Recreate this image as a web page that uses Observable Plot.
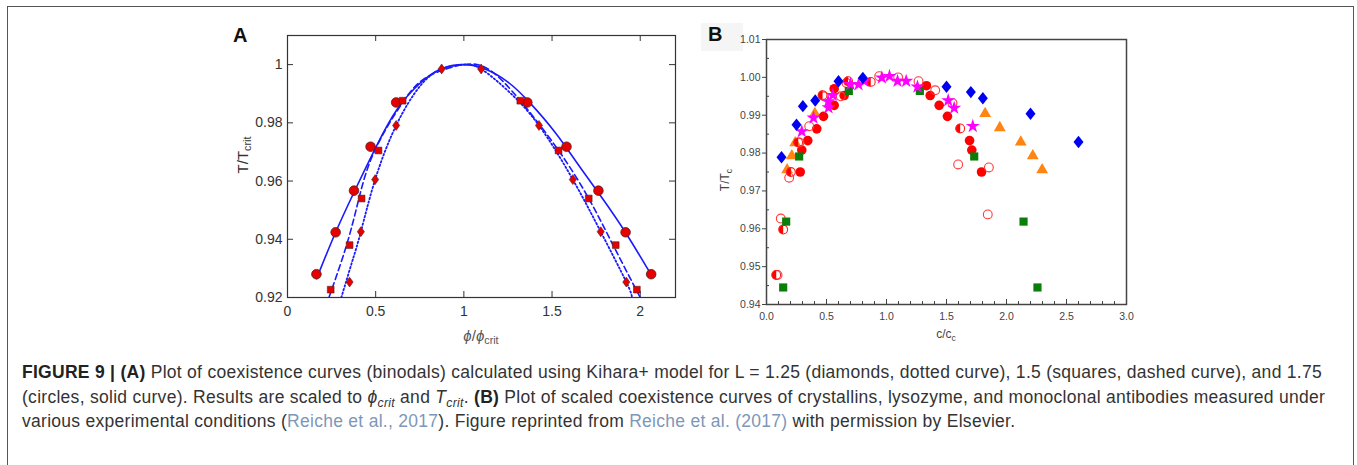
<!DOCTYPE html>
<html><head><meta charset="utf-8">
<script src="https://cdn.jsdelivr.net/npm/d3@7"></script>
<script src="https://cdn.jsdelivr.net/npm/@observablehq/plot@0.6"></script>
<style>
body{margin:0;background:#fff;font-family:"Liberation Sans",Arial,sans-serif;}
#page{position:relative;width:1357px;height:465px;overflow:hidden;background:#fff;}
.abs{position:absolute;white-space:nowrap;}
#border{position:absolute;left:7px;top:6px;width:1347px;height:470px;border:1px solid #555;box-sizing:border-box;}
.cap{position:absolute;left:22px;top:360px;font-size:17.5px;letter-spacing:0.28px;line-height:24.5px;color:#333;white-space:nowrap;}
.cap b{color:#222;}
.cap .lnk{color:#7d97b8;}
.cap sub{font-size:70%;vertical-align:-0.35em;line-height:0;}
.ttl sub{font-size:72%;vertical-align:-0.35em;line-height:0;}
</style></head><body><div id="page">
<div id="border"></div>
<div class="abs" style="left:233px;top:24px;font-size:20px;font-weight:bold;color:#111;">A</div>
<div class="abs" style="left:701px;top:23px;width:42px;height:28px;background:#f5f5f5;"></div>
<div class="abs" style="left:708px;top:23px;font-size:20px;font-weight:bold;color:#111;">B</div>
<div id="plotA" class="abs" style="left:200px;top:20px;"></div>
<div id="plotB" class="abs" style="left:700px;top:20px;"></div>
<div class="abs ttl" style="left:242px;top:155px;transform:translate(-50%,-50%) rotate(-90deg);font-size:15px;color:#333;">T/T<sub>crit</sub></div>
<div class="abs ttl" style="left:481px;top:335px;transform:translate(-50%,-50%);font-size:15px;color:#555;"><i>ϕ</i>/<i>ϕ</i><sub>crit</sub></div>
<div class="abs ttl" style="left:725px;top:180px;transform:translate(-50%,-50%) rotate(-90deg);font-size:12px;color:#444;">T/T<sub>c</sub></div>
<div class="abs ttl" style="left:946px;top:334px;transform:translate(-50%,-50%);font-size:12px;color:#444;">c/c<sub>c</sub></div>
<div class="cap"><b>FIGURE 9 | (A)</b> Plot of coexistence curves (binodals) calculated using Kihara+ model for L = 1.25 (diamonds, dotted curve), 1.5 (squares, dashed curve), and 1.75<br>(circles, solid curve). Results are scaled to <i>ϕ<sub>crit</sub></i> and <i>T<sub>crit</sub></i>. <b>(B)</b> Plot of scaled coexistence curves of crystallins, lysozyme, and monoclonal antibodies measured under<br>various experimental conditions (<span class="lnk">Reiche et al., 2017</span>). Figure reprinted from <span class="lnk">Reiche et al. (2017)</span> with permission by Elsevier.</div>
</div>
<script>
// ---------- Panel A data ----------
const xTicksA = [0, 0.5, 1, 1.5, 2];
const yTicksA = [0.92, 0.94, 0.96, 0.98, 1];
const circleAx = [0.164, 0.273, 0.377, 0.471, 0.616, 1.36, 1.582, 1.763, 1.917, 2.062];
const circleAy = [0.928, 0.9424, 0.9567, 0.9718, 0.987, 0.987, 0.9718, 0.9567, 0.9424, 0.928];
const squareAx = [0.245, 0.352, 0.42, 0.516, 0.653, 1.32, 1.537, 1.708, 1.861, 1.981];
const squareAy = [0.9227, 0.938, 0.954, 0.9705, 0.9876, 0.9876, 0.9705, 0.954, 0.938, 0.9227];
const diamondAx = [0.352, 0.416, 0.497, 0.616, 0.874, 1.098, 1.426, 1.618, 1.776, 1.921];
const diamondAy = [0.9253, 0.9426, 0.9605, 0.9791, 0.9985, 0.9985, 0.9791, 0.9605, 0.9426, 0.9253];
const solidAx = [0.165, 0.27, 0.38, 0.5, 0.62, 0.75, 0.87, 1.0, 1.12, 1.25, 1.38, 1.52, 1.65, 1.78, 1.92, 2.06];
const solidAy = [0.9265, 0.942, 0.9565, 0.9715, 0.9845, 0.9935, 0.9985, 1.0, 0.9985, 0.994, 0.9865, 0.9765, 0.9655, 0.9545, 0.942, 0.928];
const dashedAx = [0.235, 0.335, 0.405, 0.495, 0.66, 0.8, 1.0, 1.15, 1.32, 1.537, 1.708, 1.846, 2.0];
const dashedAy = [0.92, 0.938, 0.954, 0.9705, 0.9876, 0.996, 1.0, 0.998, 0.9876, 0.9705, 0.954, 0.938, 0.92];
const dottedAx = [0.305, 0.33, 0.37, 0.416, 0.497, 0.616, 0.75, 0.874, 1.0, 1.098, 1.25, 1.426, 1.618, 1.776, 1.921, 1.953];
const dottedAy = [0.92, 0.925, 0.933, 0.9426, 0.9605, 0.9791, 0.9925, 0.9985, 1.0, 0.9985, 0.991, 0.9791, 0.9605, 0.9426, 0.9253, 0.92];

// ---------- Panel B data ----------
const xTicksB = [0, 0.5, 1, 1.5, 2, 2.5, 3];
const xMinorB = [0.1, 0.2, 0.3, 0.4, 0.6, 0.7, 0.8, 0.9, 1.1, 1.2, 1.3, 1.4, 1.6, 1.7, 1.8, 1.9, 2.1, 2.2, 2.3, 2.4, 2.6, 2.7, 2.8, 2.9];
const yTicksB = [0.94, 0.95, 0.96, 0.97, 0.98, 0.99, 1.0, 1.01];
const yMinorB = [0.945, 0.955, 0.965, 0.975, 0.985, 0.995, 1.005];
const blueBx = [0.125, 0.25, 0.303, 0.406, 0.6, 0.803, 1.5, 1.703, 1.803, 2.2, 2.6];
const blueBy = [0.9789, 0.9875, 0.9924, 0.9939, 0.999, 0.9998, 0.9975, 0.9961, 0.9945, 0.9904, 0.9829];
const orangeBx = [0.172, 0.211, 0.239, 0.403, 1.822, 1.944, 2.119, 2.219, 2.297];
const orangeBy = [0.9756, 0.9793, 0.9827, 0.9904, 0.9904, 0.9867, 0.9829, 0.9793, 0.9756];
const greenBx = [0.139, 0.164, 0.272, 0.686, 1.278, 1.731, 2.142, 2.258];
const greenBy = [0.9445, 0.9619, 0.9791, 0.9964, 0.9964, 0.9791, 0.9619, 0.9445];
const redFillBx = [0.281, 0.294, 0.344, 0.419, 0.475, 0.564, 0.564, 0.647, 1.333, 1.364, 1.439, 1.508, 1.692, 1.711, 1.792];
const redFillBy = [0.975, 0.9808, 0.9833, 0.9864, 0.9897, 0.9926, 0.997, 0.9952, 0.9978, 0.9952, 0.9926, 0.9897, 0.9833, 0.9808, 0.975];
const redHalfBx = [0.081, 0.139, 0.203, 0.264, 0.467, 0.68, 0.869, 1.614];
const redHalfBy = [0.9478, 0.9598, 0.975, 0.9828, 0.9953, 0.999, 0.9988, 0.9865];
const redOpenBx = [0.092, 0.119, 0.189, 0.275, 0.356, 0.478, 0.619, 0.667, 0.939, 1.097, 1.267, 1.406, 1.55, 1.597, 1.853, 1.844];
const redOpenBy = [0.9478, 0.9627, 0.9735, 0.9828, 0.9871, 0.995, 0.995, 0.9985, 1.0003, 1.0, 0.999, 0.9966, 0.9932, 0.977, 0.9762, 0.9638];
const starBx = [0.294, 0.392, 0.514, 0.517, 0.553, 0.7, 0.767, 0.814, 0.961, 1.025, 1.092, 1.164, 1.258, 1.514, 1.564, 1.719];
const starBy = [0.9857, 0.9893, 0.9936, 0.992, 0.9953, 0.9982, 0.9981, 0.999, 0.9999, 1.0003, 0.999, 0.999, 0.9975, 0.9939, 0.9919, 0.9871];

// ---------- helpers ----------
const rows = (xs, ys) => xs.map((x, i) => ({x, y: ys[i]}));
const halfLeft = {draw(ctx, size) {
  const r = Math.sqrt(size / Math.PI);
  ctx.moveTo(0, -r); ctx.arc(0, 0, r, -Math.PI / 2, Math.PI / 2, true); ctx.closePath();
}};
const tallDiamond = (ratio) => ({draw(ctx, size) {
  const r = Math.sqrt(size / Math.PI); const h = r * 1.3, w = h * ratio;
  ctx.moveTo(0, -h); ctx.lineTo(w, 0); ctx.lineTo(0, h); ctx.lineTo(-w, 0); ctx.closePath();
}});

// ---------- Panel A ----------
const WA = 500, HA = 330, mlA = 87, mrA = 25, mtA = 15, mbA = 53;
const iwA = WA - mlA - mrA, ihA = HA - mtA - mbA;
const tk = 6;
const blue = "#1a1aff";
const plotA = Plot.plot({
  width: WA, height: HA, marginLeft: mlA, marginRight: mrA, marginTop: mtA, marginBottom: mbA,
  x: {domain: [0, 2.2]}, y: {domain: [0.92, 1.01]},
  style: {fontFamily: "Liberation Sans, Arial, sans-serif", fontSize: "14px", color: "#333", background: "transparent", overflow: "visible"},
  marks: [
    Plot.axisX({ticks: xTicksA, tickSize: 0, tickPadding: 9, label: null, tickFormat: d => String(d)}),
    Plot.axisY({ticks: yTicksA, tickSize: 0, tickPadding: 5, label: null, tickFormat: d => String(d)}),
    Plot.tickY(yTicksA, {y: d => d, stroke: "#333", insetRight: iwA - tk}),
    Plot.tickY(yTicksA, {y: d => d, stroke: "#333", insetLeft: iwA - tk}),
    Plot.tickX(xTicksA, {x: d => d, stroke: "#333", insetTop: ihA - tk}),
    Plot.tickX(xTicksA, {x: d => d, stroke: "#333", insetBottom: ihA - tk}),
    Plot.line(rows(solidAx, solidAy), {x: "x", y: "y", curve: "natural", stroke: blue, strokeWidth: 1.6, clip: true}),
    Plot.line(rows(dashedAx, dashedAy), {x: "x", y: "y", curve: "natural", stroke: blue, strokeWidth: 1.6, strokeDasharray: "6,3.5", clip: true}),
    Plot.line(rows(dottedAx, dottedAy), {x: "x", y: "y", curve: "natural", stroke: blue, strokeWidth: 1.8, strokeDasharray: "1.5,2.3", clip: true}),
    Plot.dot(rows(circleAx, circleAy), {x: "x", y: "y", r: 4.8, fill: "#e60000", stroke: "#4d2222", strokeWidth: 0.8}),
    Plot.dot(rows(squareAx, squareAy), {x: "x", y: "y", symbol: "square", r: 3.8, fill: "#e60000", stroke: "#4d2222", strokeWidth: 0.6}),
    Plot.dot(rows(diamondAx, diamondAy), {x: "x", y: "y", symbol: tallDiamond(0.72), r: 3.8, fill: "#e60000", stroke: "#4d2222", strokeWidth: 0.6}),
    Plot.frame({stroke: "#333", strokeWidth: 1.2})
  ]
});
document.getElementById("plotA").append(plotA);

// ---------- Panel B ----------
const WB = 450, HB = 330, mlB = 66, mrB = 24, mtB = 19, mbB = 46;
const iwB = WB - mlB - mrB, ihB = HB - mtB - mbB;
const plotB = Plot.plot({
  width: WB, height: HB, marginLeft: mlB, marginRight: mrB, marginTop: mtB, marginBottom: mbB,
  x: {domain: [0, 3]}, y: {domain: [0.94, 1.01]},
  style: {fontFamily: "Liberation Sans, Arial, sans-serif", fontSize: "10.5px", color: "#444", background: "transparent", overflow: "visible"},
  marks: [
    Plot.axisX({ticks: xTicksB, tickSize: 0, tickPadding: 8, label: null, tickFormat: d3.format(".1f")}),
    Plot.axisY({ticks: yTicksB, tickSize: 4, tickPadding: 2, label: null, tickFormat: d3.format(".2f")}),
    Plot.tickY(yMinorB, {y: d => d, stroke: "#444", insetRight: iwB - 3}),
    Plot.tickX(xTicksB, {x: d => d, stroke: "#444", insetTop: ihB - 5}),
    Plot.tickX(xMinorB, {x: d => d, stroke: "#444", insetTop: ihB - 3}),
    Plot.dot(rows(orangeBx, orangeBy), {x: "x", y: "y", symbol: "triangle", r: 4.4, fill: "#ff8412"}),
    Plot.dot(rows(redFillBx, redFillBy), {x: "x", y: "y", r: 4.8, fill: "#ff0000"}),
    Plot.dot(rows(redOpenBx, redOpenBy), {x: "x", y: "y", r: 4.4, fill: "none", stroke: "#ff3a3a", strokeWidth: 1.1}),
    Plot.dot(rows(redHalfBx, redHalfBy), {x: "x", y: "y", symbol: halfLeft, r: 4.6, fill: "#ff0000"}),
    Plot.dot(rows(redHalfBx, redHalfBy), {x: "x", y: "y", r: 4.4, fill: "none", stroke: "#ff2020", strokeWidth: 1.1}),
    Plot.dot(rows(greenBx, greenBy), {x: "x", y: "y", symbol: "square", r: 4.6, fill: "#0a7d0a"}),
    Plot.dot(rows(starBx, starBy), {x: "x", y: "y", symbol: "star", r: 4.4, fill: "#ff00ff"}),
    Plot.dot(rows(blueBx, blueBy), {x: "x", y: "y", symbol: tallDiamond(0.8), r: 4.8, fill: "#0000f0"}),
    Plot.frame({stroke: "#444", strokeWidth: 1.5})
  ]
});
document.getElementById("plotB").append(plotB);
</script>
</body></html>
